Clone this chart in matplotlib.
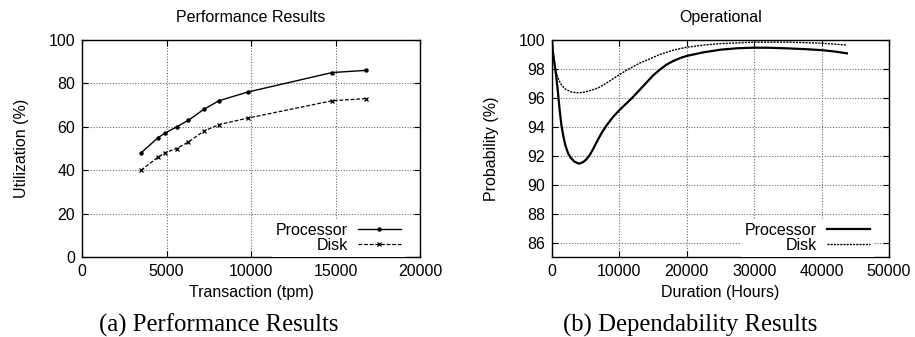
import matplotlib
matplotlib.use("Agg")
import matplotlib.pyplot as plt

# ---- data: Performance Results ----
perf_tpm = [3500, 4500, 4900, 5600, 6300, 7200, 8100, 9800, 14800, 16800]
perf_processor = [48, 55, 57, 60, 63, 68, 72, 76, 85, 86]
perf_disk = [40, 46, 48, 50, 53, 58, 61, 64, 72, 73]

# ---- data: Operational (dependability) ----
proc_hours = [0, 100, 300, 600, 900, 1150, 1400, 1700, 2000, 2400, 2800, 3300,
              4000, 4600, 5100, 5600, 6200, 6800, 7400, 8100, 9000, 10000,
              11000, 12000, 13000, 14000, 15000, 16000, 17000, 18000, 19000,
              20000, 22500, 25000, 27500, 30000, 32500, 35000, 37500, 40000,
              42000, 43750]
proc_prob = [100, 99.3, 98.6, 97.6, 96.3, 95.1, 94.1, 93.3, 92.7, 92.15, 91.85, 91.6,
             91.45, 91.55, 91.75, 92.05, 92.55, 93.1, 93.6, 94.1, 94.65, 95.15,
             95.6, 96.05, 96.55, 97.05, 97.55, 97.95, 98.3, 98.55, 98.75,
             98.9, 99.15, 99.33, 99.43, 99.47, 99.46, 99.42, 99.37, 99.3,
             99.2, 99.08]
disk_hours = [0, 100, 300, 500, 800, 1100, 1400, 2000, 2800, 3500, 4100, 5000,
              6000, 6900, 8000, 9000, 10000, 11000, 12000, 13000, 14300, 16000,
              18000, 20000, 22500, 25000, 27500, 30000, 35000, 40000, 43750]
disk_prob = [100, 99.4, 98.6, 98.0, 97.5, 97.15, 96.9, 96.6, 96.42, 96.36, 96.35, 96.42,
             96.55, 96.7, 97.0, 97.3, 97.6, 97.9, 98.15, 98.4, 98.65, 99.0,
             99.3, 99.5, 99.65, 99.75, 99.8, 99.85, 99.85, 99.78, 99.65]

perf_xticks = [0, 5000, 10000, 15000, 20000]
perf_yticks = [0, 20, 40, 60, 80, 100]
op_xticks = [0, 10000, 20000, 30000, 40000, 50000]
op_yticks = [86, 88, 90, 92, 94, 96, 98, 100]

plt.rcParams['font.family'] = ['Liberation Sans', 'DejaVu Sans']
FS = 11.5

fig = plt.figure(figsize=(9.15, 3.37), dpi=100)
W, H = 915, 337

def add_ax(x0, x1, y0, y1):
    return fig.add_axes([x0 / W, (H - y1) / H, (x1 - x0) / W, (y1 - y0) / H])

ax1 = add_ax(82, 420, 40, 257)
ax2 = add_ax(552, 889, 40, 257)

grid_kw = dict(color='#6a6a6a', linestyle=(0, (1, 1.5)), linewidth=0.8)

for ax in (ax1, ax2):
    ax.grid(True, **grid_kw)
    ax.set_axisbelow(True)
    ax.tick_params(direction='in', length=4, width=0.8, labelsize=FS,
                   top=True, right=True, pad=5)
    for s in ax.spines.values():
        s.set_linewidth(1.0)
        s.set_color('black')

leg_kw = dict(loc='lower right', markerfirst=False, fontsize=FS,
              frameon=True, fancybox=False, framealpha=1,
              edgecolor='none', handlelength=2.7, handletextpad=0.6,
              labelspacing=0.0, borderpad=0.25, borderaxespad=0.0)

# Left chart
ax1.plot(perf_tpm, perf_processor, color='black', linewidth=1.0,
         marker='o', markersize=2.2, label='Processor')
ax1.plot(perf_tpm, perf_disk, color='black', linewidth=0.9,
         linestyle=(0, (3, 1.5)), marker='x', markersize=3.5,
         markeredgewidth=0.9, label='Disk')
ax1.set_xlim(0, 20000)
ax1.set_ylim(0, 100)
ax1.set_xticks(perf_xticks)
ax1.set_yticks(perf_yticks)
ax1.set_title('Performance Results', fontsize=FS, pad=13)
ax1.set_xlabel('Transaction (tpm)', fontsize=FS, labelpad=4)
ax1.set_ylabel('Utilization (%)', fontsize=FS, labelpad=14)
ax1.legend(numpoints=1, bbox_to_anchor=(0.955, 0.0), **leg_kw)

# Right chart
ax2.plot(proc_hours, proc_prob, color='black', linewidth=1.6, label='Processor')
ax2.plot(disk_hours, disk_prob, color='black', linewidth=1.0,
         linestyle=(0, (1.5, 0.8)), label='Disk')
ax2.set_xlim(0, 50000)
ax2.set_ylim(85, 100)
ax2.set_xticks(op_xticks)
ax2.set_yticks(op_yticks)
ax2.set_title('Operational', fontsize=FS, pad=13)
ax2.set_xlabel('Duration (Hours)', fontsize=FS, labelpad=4)
ax2.set_ylabel('Probability (%)', fontsize=FS, labelpad=14)
ax2.legend(bbox_to_anchor=(0.955, 0.0), **leg_kw)

# Captions
cap_kw = dict(fontsize=17.8, family=['Liberation Serif', 'DejaVu Serif'],
              ha='center', va='baseline')
fig.text(219 / W, 1 - 332 / H, '(a) Performance Results', **cap_kw)
fig.text(690 / W, 1 - 332 / H, '(b) Dependability Results', **cap_kw)

fig.savefig('out.png', dpi=100)
